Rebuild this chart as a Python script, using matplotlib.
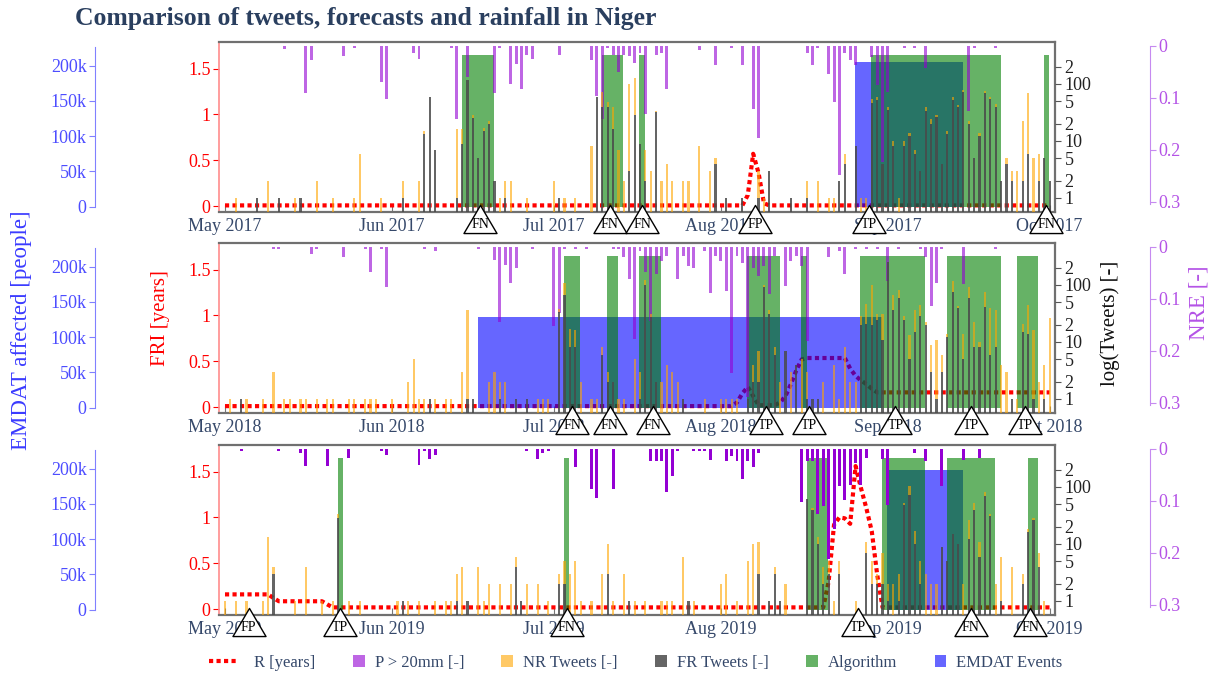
import numpy as np
import matplotlib
matplotlib.use("Agg")
import matplotlib.pyplot as plt
import matplotlib.transforms as mtransforms
from matplotlib.lines import Line2D
from matplotlib.patches import Rectangle
from matplotlib.path import Path
from matplotlib.legend_handler import HandlerBase
from matplotlib.ticker import FixedLocator, FixedFormatter, NullLocator

plt.rcParams['font.family'] = ['Liberation Serif', 'DejaVu Serif']

# ---------------------------------------------------------------- data
YEARS = [2017, 2018, 2019]
MONTH_NAMES = ['May', 'Jun', 'Jul', 'Aug', 'Sep', 'Oct']
MONTH_START_DAY = [0, 31, 61, 92, 123, 153]          # days since 1 May

# tweets per day: (day since 1 May, NR tweets, FR tweets)
TWEETS_2017 = [
    (2, 1, 0), (6, 0, 1), (8, 2, 0), (10, 0, 1), (13, 1, 0), (14, 0, 1), (17, 2, 0), (20, 1, 0),
    (24, 1, 0), (25, 6, 0), (29, 1, 0), (33, 1, 1), (36, 2, 0), (37, 2, 13), (38, 0, 58), (39, 0, 7),
    (43, 15, 1), (44, 7, 9), (45, 0, 117), (46, 3, 25), (47, 0, 5), (48, 2, 15), (49, 2, 20), (50, 0, 2),
    (51, 1, 0), (52, 1, 1), (53, 2, 0), (56, 1, 0), (61, 2, 0), (62, 0, 1), (63, 1, 0), (65, 1, 0),
    (68, 8, 0), (69, 0, 60), (70, 32, 39), (71, 10, 39), (72, 24, 16), (73, 7, 0), (74, 2, 0), (75, 97, 3),
    (76, 100, 29), (77, 0, 9), (78, 5, 2), (79, 3, 0), (80, 2, 32), (81, 2, 0), (82, 4, 0), (83, 2, 0),
    (85, 2, 0), (86, 2, 0), (88, 8, 0), (90, 3, 0), (91, 1, 4), (93, 0, 1), (96, 0, 1), (99, 2, 1),
    (100, 1, 0), (101, 0, 3), (105, 0, 1), (108, 1, 1), (110, 2, 0), (112, 1, 0), (113, 1, 0), (114, 0, 2),
    (115, 2, 4), (117, 0, 8), (118, 1, 0), (119, 1, 0), (120, 8, 47), (121, 6, 52), (122, 0, 4), (123, 5, 35),
    (124, 2, 8), (125, 1, 0), (126, 2, 8), (127, 2, 12), (128, 1, 6), (129, 0, 3), (130, 5, 34), (131, 4, 20),
    (132, 3, 26), (133, 0, 4), (134, 2, 13), (135, 6, 52), (136, 4, 39), (137, 8, 71), (138, 2, 20), (139, 0, 5),
    (140, 2, 12), (141, 6, 68), (142, 4, 54), (143, 5, 40), (144, 0, 2), (145, 1, 4), (146, 1, 2), (147, 3, 0),
    (148, 20, 2), (149, 62, 6), (150, 5, 0), (151, 4, 2), (152, 0, 5), (153, 0, 2)]
TWEETS_2018 = [
    (1, 1, 0), (3, 0, 1), (4, 1, 0), (7, 1, 0), (9, 3, 0), (11, 1, 0), (12, 1, 0), (14, 1, 0),
    (15, 1, 0), (17, 1, 0), (19, 1, 0), (20, 1, 0), (23, 1, 0), (24, 1, 0), (26, 1, 0), (27, 1, 0),
    (28, 1, 0), (31, 1, 0), (34, 2, 0), (35, 5, 0), (36, 1, 0), (37, 1, 0), (38, 0, 1), (39, 1, 0),
    (41, 1, 0), (42, 1, 0), (44, 3, 0), (45, 36, 1), (46, 0, 1), (49, 2, 0), (50, 3, 0), (51, 1, 1),
    (52, 2, 0), (54, 0, 1), (56, 0, 1), (58, 1, 0), (59, 1, 0), (60, 1, 0), (62, 4, 34), (63, 40, 66),
    (64, 9, 8), (65, 8, 8), (66, 2, 0), (68, 1, 0), (69, 1, 0), (70, 2, 6), (71, 1, 2), (72, 0, 2),
    (73, 1, 0), (74, 1, 0), (76, 5, 0), (77, 2, 1), (78, 22, 100), (79, 4, 27), (80, 0, 2), (81, 2, 0),
    (82, 4, 0), (83, 3, 0), (84, 2, 0), (85, 0, 1), (89, 1, 0), (92, 1, 0), (93, 1, 0), (94, 1, 0),
    (95, 1, 0), (97, 0, 1), (98, 2, 2), (99, 5, 2), (100, 5, 93), (101, 5, 31), (102, 2, 6), (103, 2, 0),
    (104, 0, 7), (105, 3, 0), (106, 0, 4), (107, 5, 0), (108, 2, 1), (109, 0, 1), (110, 0, 1), (111, 2, 0),
    (113, 4, 0), (114, 1, 0), (115, 8, 0), (116, 2, 0), (117, 2, 0), (118, 9, 20), (119, 26, 21), (120, 80, 20),
    (121, 7, 24), (122, 20, 11), (123, 0, 257), (124, 30, 36), (125, 23, 58), (126, 4, 24), (127, 8, 5),
    (128, 21, 15), (129, 16, 28), (130, 2, 20), (131, 6, 3), (132, 10, 1), (133, 3, 3), (134, 2, 12),
    (135, 39, 76), (136, 3, 39), (137, 9, 5), (138, 35, 58), (139, 14, 8), (140, 2, 8), (141, 35, 41),
    (142, 33, 6), (143, 28, 8), (144, 4, 0), (145, 3, 0), (146, 0, 1), (147, 1, 0), (148, 6, 15),
    (149, 30, 14), (150, 15, 1), (151, 2, 0), (152, 3, 1), (153, 26, 0)]
TWEETS_2019 = [
    (0, 1, 0), (2, 1, 0), (4, 1, 0), (7, 1, 0), (8, 13, 0), (9, 1, 3), (13, 1, 0), (15, 4, 0),
    (18, 1, 0), (20, 1, 0), (21, 5, 29), (23, 1, 0), (25, 1, 0), (32, 1, 0), (33, 0, 1), (34, 1, 0),
    (36, 1, 0), (39, 1, 0), (41, 1, 0), (42, 1, 0), (43, 2, 1), (44, 4, 0), (45, 0, 1), (47, 4, 0),
    (48, 1, 0), (49, 2, 0), (51, 2, 0), (53, 2, 0), (54, 2, 4), (55, 0, 1), (56, 2, 0), (58, 2, 0),
    (60, 1, 0), (62, 1, 2), (63, 3, 2), (64, 3, 0), (65, 5, 0), (66, 1, 0), (68, 1, 0), (70, 3, 0),
    (71, 7, 3), (72, 1, 0), (74, 3, 0), (75, 0, 1), (76, 1, 0), (78, 1, 0), (81, 1, 0), (82, 1, 0),
    (83, 1, 0), (85, 6, 0), (86, 0, 1), (87, 1, 0), (92, 2, 0), (93, 3, 0), (95, 1, 0), (97, 5, 0),
    (98, 10, 0), (99, 8, 3), (101, 0, 1), (102, 1, 3), (103, 0, 1), (104, 2, 0), (108, 0, 62), (109, 3, 39),
    (110, 3, 10), (111, 2, 2), (112, 2, 3), (113, 1, 0), (114, 2, 3), (117, 1, 0), (119, 4, 7), (120, 3, 2),
    (121, 1, 2), (122, 5, 2), (123, 1, 1), (124, 2, 0), (125, 2, 1), (126, 4, 49), (127, 32, 71), (128, 7, 10),
    (129, 3, 2), (130, 3, 0), (131, 2, 0), (132, 2, 0), (133, 0, 9), (134, 0, 5), (135, 0, 15), (136, 0, 10),
    (137, 2, 0), (138, 14, 12), (139, 13, 39), (140, 5, 6), (141, 13, 68), (142, 3, 31), (143, 2, 0),
    (144, 5, 1), (146, 4, 0), (148, 1, 2), (149, 2, 16), (150, 2, 26), (151, 3, 4), (152, 1, 0)]

# rainfall-exceedance bars P > 20mm, NRE value: (day, NRE)
P_2017 = [
    (11, .005), (15, .09), (16, .027), (22, .019), (24, .003), (29, .07), (30, .103), (35, .013), (36, .025),
    (42, .003), (43, .14), (45, .06), (50, .091), (51, .003), (53, .074), (54, .035), (55, .083), (56, .017),
    (57, .025), (62, .017), (68, .027), (69, .096), (70, .14), (71, .003), (72, .017), (73, .05), (74, .017),
    (75, .019), (76, .033), (77, .014), (78, .131), (80, .017), (81, .014), (82, .082), (88, .008), (91, .037),
    (94, .003), (96, .037), (98, .121), (99, .177), (108, .014), (109, .037), (110, .003), (112, .054),
    (113, .107), (114, .249), (115, .014), (116, .027), (117, .037), (120, .022), (121, .075), (122, .223),
    (123, .088), (126, .003), (128, .003), (130, .043), (138, .125), (139, .003), (143, .003)]
P_2018 = [
    (9, .003), (10, .003), (16, .013), (17, .003), (22, .02), (26, .003), (27, .048), (29, .003), (30, .078),
    (37, .003), (39, .008), (47, .003), (50, .025), (51, .145), (52, .035), (53, .069), (54, .04), (57, .003),
    (61, .153), (62, .127), (63, .003), (65, .003), (67, .003), (72, .003), (73, .003), (74, .02), (75, .062),
    (76, .177), (77, .008), (78, .049), (79, .143), (80, .053), (81, .027), (82, .017), (84, .062), (85, .017),
    (86, .037), (87, .04), (89, .008), (90, .088), (91, .017), (92, .027), (93, .085), (94, .242), (95, .017),
    (96, .03), (97, .289), (98, .04), (99, .056), (100, .037), (101, .091), (102, .017), (104, .075),
    (105, .027), (106, .017), (107, .037), (108, .181), (112, .02), (114, .008), (115, .053), (117, .003),
    (119, .003), (121, .003), (123, .066), (125, .003), (129, .004), (130, .02), (131, .114), (132, .069),
    (133, .003), (137, .072), (143, .003)]
P_2019 = [
    (3, .003), (10, .003), (14, .008), (15, .033), (19, .033), (23, .017), (29, .003), (30, .011), (36, .03),
    (37, .003), (38, .02), (39, .011), (56, .003), (58, .019), (59, .008), (60, .003), (65, .035), (68, .078),
    (69, .094), (72, .078), (79, .024), (80, .024), (81, .024), (82, .082), (83, .053), (84, .003), (87, .003),
    (88, .003), (89, .004), (90, .022), (93, .024), (94, .014), (95, .024), (96, .057), (97, .024), (98, .035),
    (99, .008), (107, .103), (108, .024), (109, .024), (110, .125), (111, .11), (112, .212), (113, .155),
    (114, .072), (115, .099), (116, .069), (117, .027), (118, .07), (119, .017), (122, .019), (123, .107),
    (128, .008), (130, .024), (133, .072), (137, .022), (140, .017)]

# return period R [years] : (day, value)
R_2017 = [(0, .007), (96, .007), (97, .12), (98, .57), (99, .36), (100, .03), (101, .007), (153, .007)]
R_2018 = [(0, .01), (94, .01), (95, .05), (96, .15), (97, .22), (98, .12), (99, .02), (102, .02), (103, .05),
          (104, .12), (105, .25), (106, .4), (107, .52), (108, .535), (115, .535), (116, .42), (117, .34),
          (118, .29), (119, .25), (120, .2), (121, .16), (153, .16)]
R_2019 = [(0, .16), (8, .16), (9, .12), (10, .085), (18, .085), (19, .05), (20, .018), (111, .018),
          (112, .3), (113, .92), (114, 1.0), (115, .99), (116, .93), (117, 1.56), (118, 1.32), (119, 1.1),
          (120, .85), (121, .38), (122, .018), (153, .018)]

# algorithm flagged periods (first day, last day)
ALG_2017 = [(44, 49), (70, 73), (77, 77), (120, 143), (152, 152)]
ALG_2018 = [(63, 65), (71, 72), (77, 80), (97, 102), (107, 107), (118, 129), (134, 143), (147, 150)]
ALG_2019 = [(21, 21), (63, 63), (108, 111), (122, 129), (134, 142), (149, 150)]
ALG_LEVEL = 215000

# EMDAT events (first day, last day) and affected people
EMDAT_2017 = [(117, 136)]
EMDAT_2018 = [(47, 121)]
EMDAT_2019 = [(123, 136)]
EMDAT_AFFECTED = [205000, 129000, 198000]

# verification markers (day, label)
MARK_2017 = [(47, 'FN'), (71, 'FN'), (77, 'FN'), (98, 'FP'), (119, 'TP'), (152, 'FN')]
MARK_2018 = [(64, 'FN'), (71, 'FN'), (79, 'FN'), (100, 'TP'), (108, 'TP'), (124, 'TP'), (138, 'TP'), (148, 'TP')]
MARK_2019 = [(4, 'FP'), (21, 'TP'), (63, 'FN'), (117, 'TP'), (138, 'FN'), (149, 'FN')]

TWEETS = [TWEETS_2017, TWEETS_2018, TWEETS_2019]
PRAIN = [P_2017, P_2018, P_2019]
RLINE = [R_2017, R_2018, R_2019]
ALG = [ALG_2017, ALG_2018, ALG_2019]
EMDAT = [EMDAT_2017, EMDAT_2018, EMDAT_2019]
MARKS = [MARK_2017, MARK_2018, MARK_2019]

# ---------------------------------------------------------------- style
SLATE = '#35486a'
C_RED = '#ff0000'
C_PURPLE = '#9400d3'
C_ORANGE = '#ffa500'
C_GRAY = '#4a4a4a'
C_GREEN = '#008000'
C_BLUE = '#0000ff'
P_ALPHA = [0.6, 0.6, 1.0]
TICK_FS = 13

FRI_LIM = (-0.065, 1.79)
TW_LIM = (10 ** -0.247, 10 ** 2.735)
NRE_LIM = (0.32, -0.0077)
EM_LIM = (-7500, 233600)
XLIM = (-1.11, 154.0)

W_PX, H_PX = 1210, 674
AX_L, AX_R = 219, 1055
PANEL_TOP = [42, 243, 445]
PANEL_H = 170

tri = Path([(0, 0.85), (-1, -0.85), (1, -0.85), (0, 0.85)],
           [Path.MOVETO, Path.LINETO, Path.LINETO, Path.CLOSEPOLY])

fig = plt.figure(figsize=(W_PX / 100, H_PX / 100), dpi=100)

for i, year in enumerate(YEARS):
    top = PANEL_TOP[i]
    ax = fig.add_axes([AX_L / W_PX, 1 - (top + PANEL_H) / H_PX,
                       (AX_R - AX_L) / W_PX, PANEL_H / H_PX])
    ax_em = ax.twinx()
    ax_nre = ax.twinx()
    ax_tw = ax.twinx()

    ax.set_xlim(*XLIM)
    # --- R line (FRI axis)
    rd, rv = zip(*RLINE[i])
    ax.plot(rd, rv, color=C_RED, lw=3, ls=(0, (1, 0.8)), dash_capstyle='butt', zorder=2)
    ax.set_ylim(*FRI_LIM)
    ax.set_yticks([0, 0.5, 1, 1.5])
    ax.set_yticklabels(['0', '0.5', '1', '1.5'])
    ax.tick_params(axis='y', direction='out', length=4, color=C_RED, labelcolor=C_RED,
                   labelsize=TICK_FS, pad=2)
    ax.set_xticks(MONTH_START_DAY)
    ax.set_xticklabels([f'{m} {year}' for m in MONTH_NAMES])
    ax.tick_params(axis='x', direction='in', length=5, color='#777777', labelcolor=SLATE,
                   labelsize=TICK_FS, pad=4)
    for s in ['top', 'right', 'bottom']:
        ax.spines[s].set_color('#707070')
        ax.spines[s].set_linewidth(1.6)
    ax.spines['left'].set_color('#ff8c8c')
    ax.spines['left'].set_linewidth(1.2)

    # --- EMDAT / algorithm (EMDAT axis)
    for a, b in EMDAT[i]:
        ax_em.bar(a - 0.1, EMDAT_AFFECTED[i], width=b - a + 1, align='edge',
                  color=C_BLUE, alpha=0.6, linewidth=0)
    for a, b in ALG[i]:
        ax_em.bar(a - 0.1, ALG_LEVEL, width=b - a + 1, align='edge',
                  color=C_GREEN, alpha=0.6, linewidth=0)
    ax_em.set_ylim(*EM_LIM)
    ax_em.yaxis.tick_left()
    for s in ['right', 'top', 'bottom']:
        ax_em.spines[s].set_visible(False)
    ax_em.spines['left'].set_visible(True)
    ax_em.spines['left'].set_position(('axes', (95 - AX_L) / (AX_R - AX_L)))
    ax_em.spines['left'].set_color('#8080ff')
    ax_em.spines['left'].set_bounds(0, 227000)
    ax_em.set_yticks([0, 50000, 100000, 150000, 200000])
    ax_em.set_yticklabels(['0', '50k', '100k', '150k', '200k'])
    ax_em.tick_params(axis='y', direction='out', length=4, color='#8080ff',
                      labelcolor='#4d4dff', labelsize=TICK_FS, pad=2)

    # --- rainfall (NRE axis, reversed)
    pdd, pv = zip(*PRAIN[i])
    ax_nre.bar(pdd, pv, width=0.55, color=C_PURPLE, alpha=P_ALPHA[i], linewidth=0)
    ax_nre.set_ylim(*NRE_LIM)
    for s in ['left', 'top', 'bottom']:
        ax_nre.spines[s].set_visible(False)
    ax_nre.spines['right'].set_position(('axes', (1150 - AX_L) / (AX_R - AX_L)))
    ax_nre.spines['right'].set_color('#c68af0')
    ax_nre.spines['right'].set_bounds(0, 0.305)
    ax_nre.set_yticks([0, 0.1, 0.2, 0.3])
    ax_nre.set_yticklabels(['0', '0.1', '0.2', '0.3'])
    ax_nre.tick_params(axis='y', direction='out', length=4, color='#c68af0',
                       labelcolor='#b453e6', labelsize=TICK_FS, pad=2)

    # --- tweets (log axis)
    ax_tw.set_yscale('log')
    lo = TW_LIM[0]
    td = np.array([t[0] for t in TWEETS[i]], dtype=float)
    nr = np.array([t[1] for t in TWEETS[i]], dtype=float)
    fr = np.array([t[2] for t in TWEETS[i]], dtype=float)
    m = fr > 0
    ax_tw.bar(td[m], fr[m] - lo, bottom=lo, width=0.4, color=C_GRAY, alpha=0.85, linewidth=0)
    m2 = nr > 0
    base = np.where(fr > 0, fr, lo)
    topv = np.where(fr > 0, fr + nr, nr)
    ax_tw.bar(td[m2], (topv - base)[m2], bottom=base[m2], width=0.4, color=C_ORANGE,
              alpha=0.6, linewidth=0)
    ax_tw.set_ylim(*TW_LIM)
    ax_tw.yaxis.set_major_locator(FixedLocator([1, 2, 5, 10, 20, 50, 100, 200]))
    ax_tw.yaxis.set_major_formatter(FixedFormatter(['1', '2', '5', '10', '2', '5', '100', '2']))
    ax_tw.yaxis.set_minor_locator(NullLocator())
    ax_tw.tick_params(axis='y', which='both', direction='out', length=4, color='#555555',
                      labelcolor='#222222', labelsize=TICK_FS, pad=3)
    for s in ax_tw.spines.values():
        s.set_visible(False)
    ax_tw.set_xlim(*XLIM)

    # --- verification markers
    trans = mtransforms.blended_transform_factory(ax_tw.transData, ax_tw.transAxes)
    for day, lab in MARKS[i]:
        ax_tw.plot([day + 0.4], [-0.041], transform=trans, marker=tri, ms=23.8,
                   mfc='white', mec='black', mew=1.0, ls='none', clip_on=False, zorder=10)
        ax_tw.text(day + 0.4, -0.075, lab, transform=trans, ha='center', va='center',
                   fontsize=10, color='black', clip_on=False, zorder=11)

# ---------------------------------------------------------------- titles / labels
fig.text(75 / W_PX, 1 - 18 / H_PX, 'Comparison of tweets, forecasts and rainfall in Niger',
         fontsize=18.5, fontweight='bold', color='#2a3f5f', ha='left', va='center')
fig.text(22 / W_PX, 1 - 330 / H_PX, 'EMDAT affected [people]', rotation=90, color='#3b3bff',
         fontsize=16.5, ha='center', va='center')
fig.text(160 / W_PX, 1 - 318 / H_PX, 'FRI [years]', rotation=90, color=C_RED,
         fontsize=15, ha='center', va='center')
fig.text(1110 / W_PX, 1 - 323 / H_PX, 'log(Tweets) [-]', rotation=90, color='#111111',
         fontsize=15, ha='center', va='center')
fig.text(1199 / W_PX, 1 - 303 / H_PX, 'NRE [-]', rotation=90, color='#b453e6',
         fontsize=16.5, ha='center', va='center')


class HandlerShortLine(HandlerBase):
    def create_artists(self, legend, orig_handle, xdescent, ydescent, width, height,
                       fontsize, trans):
        y = height / 2 - ydescent
        ln = Line2D([-xdescent, -xdescent + 21.6], [y, y])
        self.update_prop(ln, orig_handle, legend)
        ln.set_transform(trans)
        return [ln]


class HandlerRightSquare(HandlerBase):
    def create_artists(self, legend, orig_handle, xdescent, ydescent, width, height,
                       fontsize, trans):
        side = 8.6
        y = height / 2 - ydescent - side / 2
        r = Rectangle((-xdescent + width - side, y), side, side,
                      facecolor=orig_handle.get_facecolor(), edgecolor='none',
                      transform=trans)
        return [r]


line_h = Line2D([0], [0], color=C_RED, lw=3, ls=(0, (1, 0.8)))
sq = [Rectangle((0, 0), 1, 1, facecolor=c, alpha=a) for c, a in
      [(C_PURPLE, 0.6), (C_ORANGE, 0.6), (C_GRAY, 0.85), (C_GREEN, 0.6), (C_BLUE, 0.6)]]
handles = [line_h] + sq
labels = ['R [years]', 'P > 20mm [-]', 'NR Tweets [-]', 'FR Tweets [-]', 'Algorithm', 'EMDAT Events']
hmap = {line_h: HandlerShortLine()}
for h in sq:
    hmap[h] = HandlerRightSquare()
fig.legend(handles, labels, loc='center', bbox_to_anchor=(636 / W_PX, 1 - 663 / H_PX), ncol=6,
           frameon=False, fontsize=12, labelcolor=SLATE, handlelength=2.1, handletextpad=0.6,
           columnspacing=0.85, handler_map=hmap)

fig.savefig('out.png', dpi=100)
